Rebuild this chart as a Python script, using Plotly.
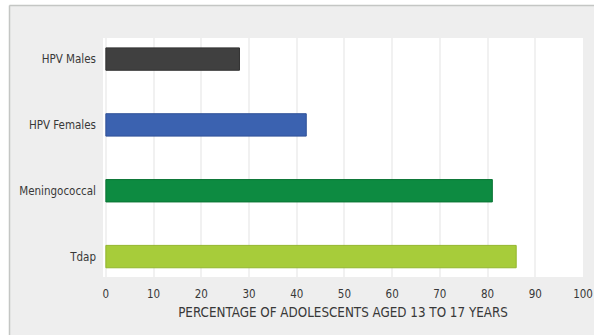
import plotly.graph_objects as go

# bottom-to-top order, as plotly draws horizontal bar categories
vaccines = ["Tdap", "Meningococcal", "HPV Females", "HPV Males"]
coverage = [86, 81, 42, 28]
bar_colors = ["#a7cc3a", "#0d8b41", "#3b62b0", "#404040"]
edge_colors = ["#93b62c", "#0a7434", "#2f5198", "#303030"]
x_ticks = [0, 10, 20, 30, 40, 50, 60, 70, 80, 90, 100]

NARROW = "DejaVu Sans Condensed, Liberation Sans Narrow, sans-serif"
TEXT = "#383838"
FRAME = "#c4c6c4"

fig = go.Figure(
    go.Bar(
        y=vaccines,
        x=coverage,
        orientation="h",
        width=0.34,
        marker={"color": bar_colors, "line": {"color": edge_colors, "width": 1}},
        hovertemplate="%{y}: %{x}%<extra></extra>",
    )
)

# plot area spans px 103..583 horizontally, 38..277 vertically
W, H, L, R, T, B = 594, 335, 103, 11, 38, 58
pw, ph = W - L - R, H - T - B


def px_x(px):
    return (px - L) / pw


def px_y(py):
    return (H - B - py) / ph


fig.update_layout(
    width=W,
    height=H,
    margin={"l": L, "r": R, "t": T, "b": B, "autoexpand": False},
    paper_bgcolor="#eeeeee",
    plot_bgcolor="#ffffff",
    showlegend=False,
    font={"family": NARROW, "size": 11.5, "color": TEXT},
    xaxis={
        "range": [-0.6, 100],
        "tickvals": x_ticks,
        "showgrid": True,
        "gridcolor": "#f1f1f1",
        "gridwidth": 2,
        "zeroline": False,
        "showline": False,
        "ticks": "",
        "ticklabelstandoff": 8,
        "fixedrange": True,
        "title": {
            "text": "PERCENTAGE OF ADOLESCENTS AGED 13 TO 17 YEARS",
            "font": {"family": NARROW, "size": 13.3, "color": TEXT},
            "standoff": 8,
        },
    },
    yaxis={
        "range": [-0.31, 3.32],
        "showgrid": False,
        "zeroline": False,
        "showline": False,
        "ticks": "",
        "ticklabelstandoff": 6,
        "fixedrange": True,
    },
    shapes=[
        # white strips outside the grey frame
        {"type": "rect", "xref": "paper", "yref": "paper", "layer": "below",
         "x0": px_x(-5), "x1": px_x(9), "y0": px_y(400), "y1": px_y(-5),
         "fillcolor": "#ffffff", "line": {"width": 0}},
        {"type": "rect", "xref": "paper", "yref": "paper", "layer": "below",
         "x0": px_x(-5), "x1": px_x(600), "y0": px_y(5), "y1": px_y(-5),
         "fillcolor": "#ffffff", "line": {"width": 0}},
        # frame edges
        {"type": "line", "xref": "paper", "yref": "paper", "layer": "below",
         "x0": px_x(9.5), "x1": px_x(9.5), "y0": px_y(400), "y1": px_y(5.5),
         "line": {"color": FRAME, "width": 1.5}},
        {"type": "line", "xref": "paper", "yref": "paper", "layer": "below",
         "x0": px_x(9.5), "x1": px_x(600), "y0": px_y(5.5), "y1": px_y(5.5),
         "line": {"color": FRAME, "width": 1.5}},
    ],
)

# drop the browser's default body margin so the figure sits at the page origin
page_fix = (
    "document.body.style.margin = '0';"
    "document.body.style.overflow = 'hidden';"
    "document.documentElement.style.overflow = 'hidden';"
)
fig.write_html(
    "out.html",
    config={"displayModeBar": False},
    post_script=page_fix,
)
